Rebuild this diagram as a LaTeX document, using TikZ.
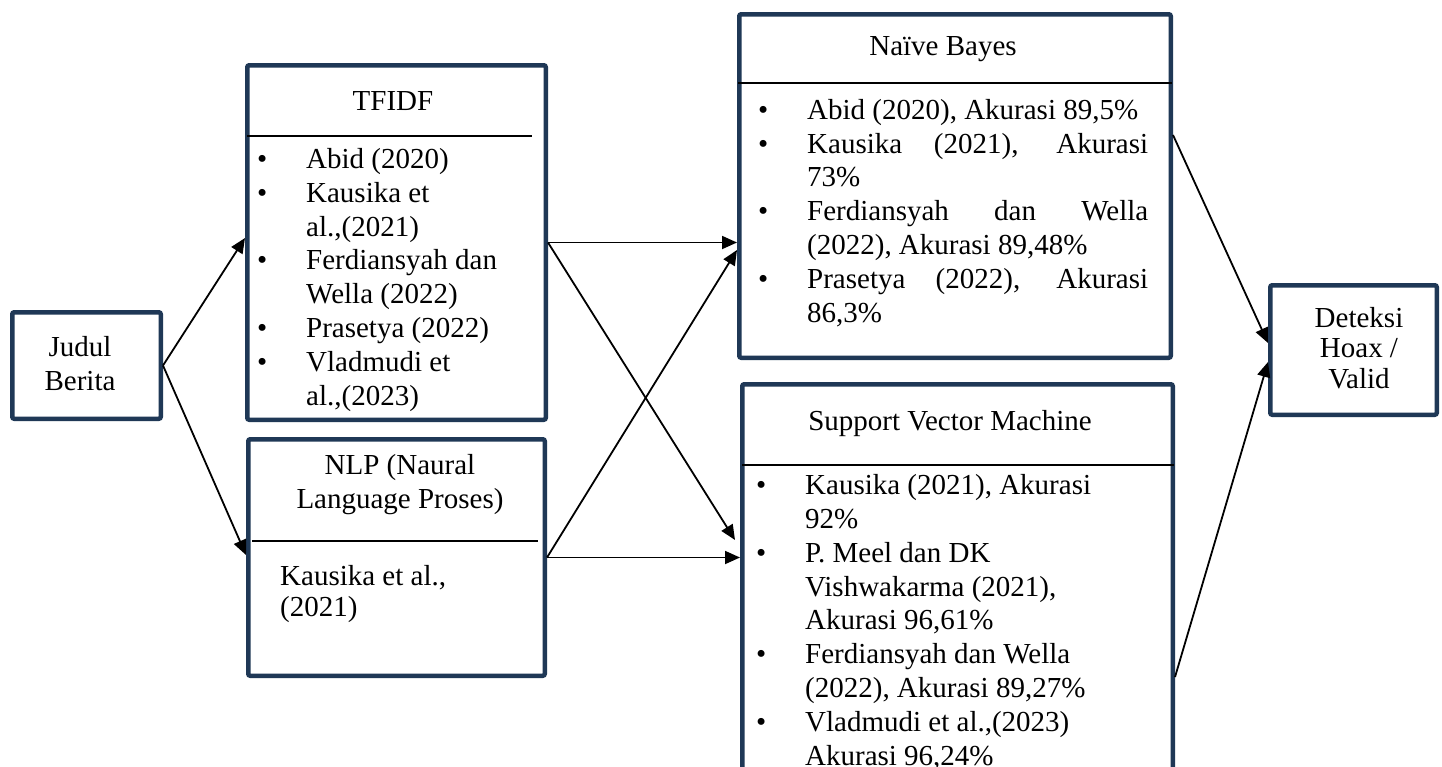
\documentclass[tikz,border=0pt]{standalone}
\usepackage{fontspec}
\setmainfont{Liberation Serif}
\definecolor{BoxNavy}{RGB}{31,56,86}
\usetikzlibrary{arrows.meta}
\newcommand{\bitem}[1]{\makebox[49pt][l]{\textbullet}#1}
\newcommand{\bcont}[1]{\hspace*{49pt}#1}
\newcommand{\jline}[1]{\makebox[341pt][s]{#1}}

\begin{document}
\begin{tikzpicture}[x=1pt,y=-1pt,
  box/.style={draw=BoxNavy,line width=4.5pt,rounded corners=2pt,fill=white,inner sep=0pt},
  txt/.style={inner sep=0pt,font=\fontsize{29}{33.8}\selectfont},
  link/.style={line width=1.8pt,-{Triangle[length=15pt,width=13pt]}},
  sep/.style={line width=1.6pt}]
  \clip (0,0) rectangle (1442,766);
  \fill[white] (0,0) rectangle (1442,766);

  % boxes
  \node[box,minimum width=148.5pt,minimum height=106.5pt] (judul) at (86.5,365.5) {};
  \node[box,minimum width=298.5pt,minimum height=354.5pt] (tfidf) at (396.5,242.5) {};
  \node[box,minimum width=296.5pt,minimum height=236.5pt] (nlp) at (396.5,557.5) {};
  \node[box,minimum width=431.5pt,minimum height=343.5pt] (nb) at (955,186) {};
  \node[box,minimum width=430.5pt,minimum height=403.5pt] (svm) at (957.5,586) {};
  \node[box,minimum width=166.5pt,minimum height=129.5pt] (deteksi) at (1353.5,350) {};

  % dividers
  \draw[sep] (247,136) -- (532,136);
  \draw[sep] (252,541) -- (538,541);
  \draw[sep] (738,83) -- (1172,83);
  \draw[sep] (742,465) -- (1174,465);

  % texts (base = last line)
  \node[txt,align=center,anchor=base] (judul-t) at (80,390) {Judul\\Berita};
  \node[txt,anchor=base] (tfidf-t) at (393,110) {TFIDF};
  \node[txt,align=left,anchor=base west] (tfidf-l) at (257,405) {%
    \bitem{Abid (2020)}\\
    \bitem{Kausika et}\\
    \bcont{al.,(2021)}\\
    \bitem{Ferdiansyah dan}\\
    \bcont{Wella (2022)}\\
    \bitem{Prasetya (2022)}\\
    \bitem{Vladmudi et}\\
    \bcont{al.,(2023)}};
  \node[txt,align=center,anchor=base] (nlp-t) at (400,508) {NLP (Naural\\Language Proses)};
  \node[txt,align=left,anchor=base west,font=\fontsize{29}{31}\selectfont] (nlp-l) at (280,616) {Kausika et al.,\\(2021)};
  \node[txt,anchor=base] (nb-t) at (943,55) {Naïve Bayes};
  \node[txt,align=left,anchor=base west] (nb-l) at (758,322) {%
    \bitem{Abid (2020), Akurasi 89,5\%}\\
    \bitem{\jline{Kausika (2021), Akurasi}}\\
    \bcont{73\%}\\
    \bitem{\jline{Ferdiansyah dan Wella}}\\
    \bcont{(2022), Akurasi 89,48\%}\\
    \bitem{\jline{Prasetya (2022), Akurasi}}\\
    \bcont{86,3\%}};
  \node[txt,anchor=base] (svm-t) at (950,430) {Support Vector Machine};
  \node[txt,align=left,anchor=base west] (svm-l) at (756,765) {%
    \bitem{Kausika (2021), Akurasi}\\
    \bcont{92\%}\\
    \bitem{P.\@ Meel dan DK}\\
    \bcont{Vishwakarma (2021),}\\
    \bcont{Akurasi 96,61\%}\\
    \bitem{Ferdiansyah dan Wella}\\
    \bcont{(2022), Akurasi 89,27\%}\\
    \bitem{Vladmudi et al.,(2023)}\\
    \bcont{Akurasi 96,24\%}};
  \node[txt,align=center,anchor=base,font=\fontsize{29}{30.5}\selectfont] (deteksi-t) at (1359,388) {Deteksi\\Hoax /\\Valid};

  % connectors
  \draw[link] (judul.east) -- ([yshift=4.5pt]tfidf.west);
  \draw[link] (judul.east) -- ([yshift=2.5pt]nlp.west);
  \draw[link] (tfidf.east) -- (tfidf.east -| nb.west);
  \draw[link] (tfidf.east) -- ([xshift=-5pt,yshift=46pt]svm.west);
  \draw[link] (nlp.east) -- ([yshift=-64pt]nb.west);
  \draw[link] (nlp.east) -- (nlp.east -| svm.west);
  \draw[link] ([yshift=51pt]nb.east) -- ([yshift=7pt]deteksi.west);
  \draw[link] ([yshift=-91pt]svm.east) -- ([yshift=-12pt]deteksi.west);
\end{tikzpicture}
\end{document}
